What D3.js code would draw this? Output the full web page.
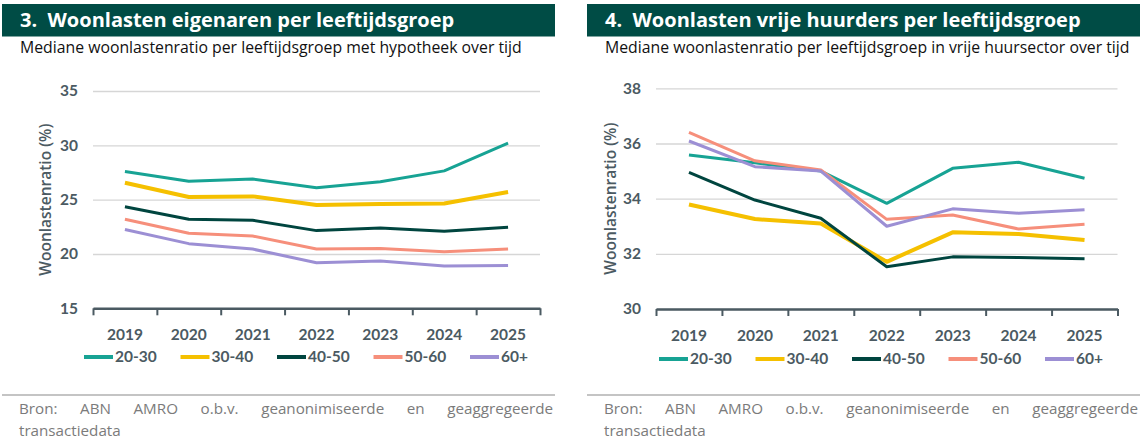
<!doctype html>
<html>
<head>
<meta charset="utf-8">
<script src="https://d3js.org/d3.v7.min.js"></script>
<style>
  body { margin: 0; background: #fff; }
  text { font-family: "Open Sans", Lato, sans-serif; }
</style>
</head>
<body>
<script>
// data
var years = ["2019", "2020", "2021", "2022", "2023", "2024", "2025"];
var groups = ["20-30", "30-40", "40-50", "50-60", "60+"];
var colors = ["#17a394", "#f5c000", "#00453f", "#f68f7b", "#9c8fd4"];
var widths = [3, 4, 3, 3, 3];

// chart 3: eigenaren met hypotheek
var own2030 = [27.6, 26.7, 26.9, 26.1, 26.65, 27.65, 30.2];
var own3040 = [26.55, 25.25, 25.3, 24.5, 24.6, 24.65, 25.7];
var own4050 = [24.35, 23.2, 23.1, 22.15, 22.4, 22.1, 22.45];
var own5060 = [23.2, 21.9, 21.65, 20.45, 20.5, 20.2, 20.45];
var own60 = [22.25, 20.95, 20.45, 19.2, 19.35, 18.9, 18.95];
var ownTicks = [15, 20, 25, 30, 35];

// chart 4: vrije huurders
var rent2030 = [35.58, 35.3, 35.0, 33.83, 35.1, 35.32, 34.74];
var rent3040 = [33.79, 33.26, 33.1, 31.71, 32.78, 32.72, 32.5];
var rent4050 = [34.95, 33.95, 33.29, 31.53, 31.89, 31.87, 31.82];
var rent5060 = [36.4, 35.37, 35.04, 33.25, 33.41, 32.9, 33.07];
var rent60 = [36.09, 35.16, 35.0, 33.0, 33.63, 33.47, 33.6];
var rentTicks = [30, 32, 34, 36, 38];

var axisGrey = "#4b5a62";

var svg = d3.select("body").append("svg")
  .attr("width", 1147).attr("height", 447);

function panel(opt) {
  var g = svg.append("g");

  // header
  g.append("rect")
    .attr("x", opt.left).attr("y", 4)
    .attr("width", opt.right - opt.left).attr("height", 32.5)
    .attr("fill", "#004c45");
  g.append("text")
    .attr("x", opt.left + 18).attr("y", 27)
    .attr("fill", "#fff").attr("font-size", 20).attr("font-weight", 700)
    .attr("xml:space", "preserve")
    .text(opt.title);
  g.append("text")
    .attr("x", opt.left + 18).attr("y", 53)
    .attr("fill", "#111").attr("font-size", 15.8)
    .text(opt.subtitle);

  var x = d3.scaleBand().domain(years).range([opt.x0, opt.x1]);
  var xEdge = d3.scaleLinear().domain([0, years.length]).range([opt.x0, opt.x1]);
  var y = d3.scaleLinear().domain(d3.extent(opt.ticks)).range([opt.yBottom, opt.yTop]);

  // gridlines + y labels
  var yAxis = g.append("g")
    .attr("transform", "translate(" + opt.x0 + ",0)")
    .call(d3.axisLeft(y).tickValues(opt.ticks).tickSize(-(opt.x1 - opt.x0)).tickPadding(15));
  yAxis.select(".domain").remove();
  yAxis.selectAll(".tick line").attr("stroke", "#d6d6d6").attr("stroke-width", 1.3);
  yAxis.selectAll(".tick text")
    .attr("fill", axisGrey).attr("font-size", 15.5).attr("font-weight", 700)
    .style("font-family", "Lato, sans-serif");

  // y title
  g.append("text")
    .attr("transform", "translate(" + opt.yTitleX + "," + ((opt.yTop + opt.yBottom) / 2) + ") rotate(-90)")
    .attr("text-anchor", "middle").attr("dy", "0.35em")
    .attr("fill", axisGrey).attr("font-size", 15.5).attr("font-weight", 600)
    .text("Woonlastenratio (%)");

  // x axis with ticks on band edges
  var xAxis = g.append("g")
    .attr("transform", "translate(0," + opt.yBottom + ")")
    .call(d3.axisBottom(xEdge).tickValues(d3.range(years.length + 1)).tickFormat("").tickSize(7).tickSizeOuter(0));
  xAxis.select(".domain").attr("stroke", axisGrey).attr("stroke-width", 2.5);
  xAxis.selectAll(".tick line").attr("stroke", axisGrey).attr("stroke-width", 2);

  var xLab = g.append("g")
    .attr("transform", "translate(0," + (opt.yBottom + 18) + ")")
    .call(d3.axisBottom(x).tickSize(0));
  xLab.select(".domain").remove();
  xLab.selectAll(".tick text")
    .attr("fill", axisGrey).attr("font-size", 15.5).attr("font-weight", 700)
    .style("font-family", "Lato, sans-serif");

  // lines
  var line = d3.line()
    .x(function(d, i) { return x(years[i]) + x.bandwidth() / 2; })
    .y(function(d) { return y(d); });
  opt.series.forEach(function(s, i) {
    g.append("path")
      .datum(s)
      .attr("fill", "none")
      .attr("stroke", colors[i])
      .attr("stroke-width", widths[i])
      .attr("stroke-linejoin", "round")
      .attr("d", line);
  });

  // legend
  var leg = g.append("g").attr("transform", "translate(" + opt.legX + "," + opt.legY + ")");
  groups.forEach(function(name, i) {
    var item = leg.append("g").attr("transform", "translate(" + (i * 96.5) + ",0)");
    item.append("line")
      .attr("x1", 0).attr("x2", 29).attr("y1", 0).attr("y2", 0)
      .attr("stroke", colors[i]).attr("stroke-width", 4);
    item.append("text")
      .attr("x", 31).attr("dy", "0.35em")
      .attr("fill", axisGrey).attr("font-size", 15.5).attr("font-weight", 700)
      .style("font-family", "Lato, sans-serif")
      .text(name);
  });

  // source
  g.append("line")
    .attr("x1", opt.left).attr("x2", opt.right)
    .attr("y1", 395).attr("y2", 395)
    .attr("stroke", "#c4c4c4").attr("stroke-width", 2);

  var words = ["Bron:", "ABN", "AMRO", "o.b.v.", "geanonimiseerde", "en", "geaggregeerde"];
  var src = g.append("g");
  var ws = words.map(function(w) {
    return src.append("text").attr("y", 414).attr("fill", "#7b7b7b").attr("font-size", 15.2).text(w);
  });
  var lens = ws.map(function(t) { return t.node().getComputedTextLength(); });
  var avail = (opt.right - 2) - (opt.left + 17);
  var gap = (avail - d3.sum(lens)) / (words.length - 1);
  var cx = opt.left + 17;
  ws.forEach(function(t, i) { t.attr("x", cx); cx += lens[i] + gap; });
  src.append("text").attr("x", opt.left + 17).attr("y", 436)
    .attr("fill", "#7b7b7b").attr("font-size", 15.2).text("transactiedata");
}

panel({
  left: 2, right: 555,
  title: "3.  Woonlasten eigenaren per leeftijdsgroep",
  subtitle: "Mediane woonlastenratio per leeftijdsgroep met hypotheek over tijd",
  x0: 93, x1: 540, yTop: 91, yBottom: 308.3,
  ticks: ownTicks, yTitleX: 46,
  series: [own2030, own3040, own4050, own5060, own60],
  legX: 84, legY: 357
});

panel({
  left: 587, right: 1140,
  title: "4.  Woonlasten vrije huurders per leeftijdsgroep",
  subtitle: "Mediane woonlastenratio per leeftijdsgroep in vrije huursector over tijd",
  x0: 656, x1: 1117.5, yTop: 88.3, yBottom: 309,
  ticks: rentTicks, yTitleX: 611,
  series: [rent2030, rent3040, rent4050, rent5060, rent60],
  legX: 659, legY: 359
});
</script>
</body>
</html>
